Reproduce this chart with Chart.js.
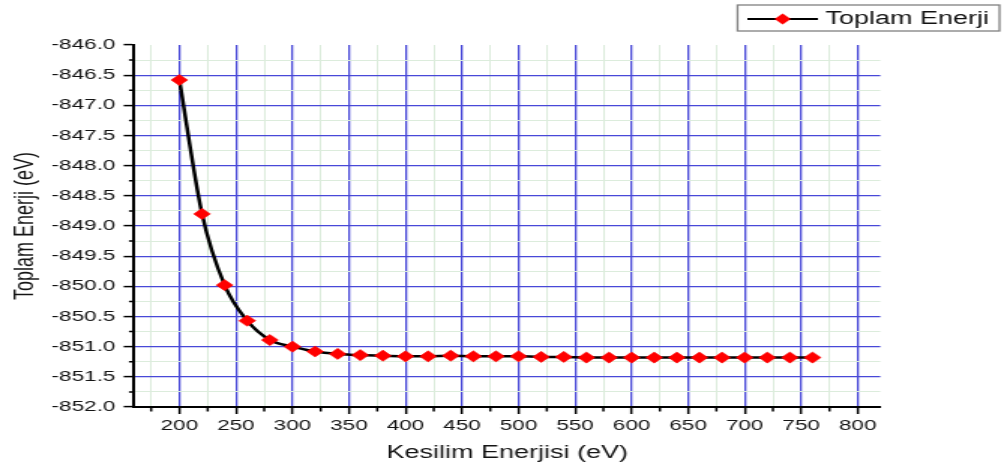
<!DOCTYPE html>
<html>
<head>
<meta charset="utf-8">
<script src="https://cdn.jsdelivr.net/npm/chart.js@4"></script>
<style>
  html, body { margin: 0; padding: 0; background: #fff; overflow: hidden; }
  /* the plot is laid out at 669 px wide and widened to the full 1004 px */
  #wrap { width: 669px; height: 470px; transform: scaleX(1.50075); transform-origin: 0 0; }
</style>
</head>
<body>
<div id="wrap"><canvas id="c" width="669" height="470"></canvas></div>
<script>
// Cut-off energy (eV) and the total energy computed at each cut-off (eV)
const cutoffEV = [200, 220, 240, 260, 280, 300, 320, 340, 360, 380, 400, 420, 440, 460, 480,
                  500, 520, 540, 560, 580, 600, 620, 640, 660, 680, 700, 720, 740, 760];
const totalEnergyEV = [-846.58, -848.80, -849.98, -850.57, -850.89, -851.00, -851.08, -851.12,
                       -851.14, -851.15, -851.16, -851.16, -851.15, -851.16, -851.16, -851.16,
                       -851.17, -851.17, -851.18, -851.18, -851.18, -851.18, -851.18, -851.18,
                       -851.18, -851.18, -851.18, -851.18, -851.18];

// Axis ranges and tick spacing
const xLimits = [160, 820];
const yLimits = [-852, -846];
const xSteps = { major: 50, minor: 25 };
const ySteps = { major: 0.5, minor: 0.25 };

// Texts
const seriesName = 'Toplam Enerji';
const xTitle = 'Kesilim Enerjisi (eV)';
const yTitle = 'Toplam Enerji (eV)';

const FONT = "'Liberation Sans', Arial, sans-serif";
const TEXT = '#141414';
const MAJOR_GRID = '#4848d8';
const MINOR_GRID = '#dcecdc';
const CLEAR = 'rgba(0,0,0,0)';

const isMajor = (v, step) => Math.abs(v / step - Math.round(v / step)) < 1e-6;

// Legend symbol: a black line with a red diamond on it
function legendIcon() {
  const c = document.createElement('canvas');
  c.width = 60; c.height = 14;
  const g = c.getContext('2d');
  const cx = 33.5, cy = 7;
  g.strokeStyle = '#000'; g.lineWidth = 2.2;
  g.beginPath(); g.moveTo(cx - 23.5, cy); g.lineTo(cx + 23.5, cy); g.stroke();
  g.fillStyle = '#ff0000';
  g.beginPath();
  g.moveTo(cx - 5.4, cy); g.lineTo(cx, cy - 5.4); g.lineTo(cx + 5.4, cy); g.lineTo(cx, cy + 5.4);
  g.closePath(); g.fill();
  return c;
}

const whiteBackground = {
  id: 'whiteBackground',
  beforeDraw(chart) {
    const { ctx, width, height } = chart;
    ctx.save(); ctx.fillStyle = '#fff'; ctx.fillRect(0, 0, width, height); ctx.restore();
  }
};

// Short tick marks at the minor positions of both axes
const minorTicks = {
  id: 'minorTicks',
  afterDraw(chart) {
    const { ctx, scales: { x, y } } = chart;
    ctx.save();
    ctx.strokeStyle = '#000'; ctx.lineWidth = 1.5;
    ctx.beginPath();
    x.ticks.forEach(t => {
      if (!isMajor(t.value, xSteps.major)) {
        const px = x.getPixelForValue(t.value);
        ctx.moveTo(px, x.top); ctx.lineTo(px, x.top + 4.5);
      }
    });
    y.ticks.forEach(t => {
      if (!isMajor(t.value, ySteps.major)) {
        const py = y.getPixelForValue(t.value);
        ctx.moveTo(y.right - 3.5, py); ctx.lineTo(y.right, py);
      }
    });
    ctx.stroke();
    ctx.restore();
  }
};

// Thin frame around the legend entry
const legendFrame = {
  id: 'legendFrame',
  afterDraw(chart) {
    const hb = chart.legend && chart.legend.legendHitBoxes && chart.legend.legendHitBoxes[0];
    if (!hb) return;
    const ctx = chart.ctx;
    ctx.save();
    ctx.strokeStyle = '#808080'; ctx.lineWidth = 1.3;
    ctx.strokeRect(hb.left - 3.5, hb.top - 5, hb.width + 10.5, hb.height + 8);
    ctx.restore();
  }
};

const spacer = (position, size) => ({
  type: 'linear', position, display: true,
  grid: { display: false, drawTicks: false }, border: { display: false },
  ticks: { display: false },
  afterFit: s => { if (s.isHorizontal()) s.height = size; else s.width = size; }
});

new Chart(document.getElementById('c'), {
  type: 'line',
  data: {
    datasets: [{
      label: seriesName,
      data: cutoffEV.map((x, i) => ({ x, y: totalEnergyEV[i] })),
      borderColor: '#000',
      borderWidth: 2.5,
      backgroundColor: '#ff0000',
      pointStyle: 'rectRot',
      pointRadius: 5.6,
      pointBorderColor: '#ff0000',
      pointBorderWidth: 0.5,
      cubicInterpolationMode: 'monotone',
      fill: false
    }]
  },
  options: {
    responsive: false,
    animation: false,
    devicePixelRatio: 1,
    layout: { padding: 0 },
    plugins: {
      legend: {
        position: 'top', align: 'end',
        labels: {
          usePointStyle: true, pointStyle: legendIcon(), pointStyleWidth: 46,
          padding: 10, color: '#111', font: { family: FONT, size: 18 }
        }
      },
      tooltip: { enabled: false }
    },
    scales: {
      x: {
        type: 'linear', position: 'bottom', min: xLimits[0], max: xLimits[1],
        afterFit: s => { s.height = 63; },
        border: { display: true, color: '#000', width: 2 },
        grid: {
          color: c => isMajor(c.tick.value, xSteps.major) ? MAJOR_GRID : MINOR_GRID,
          lineWidth: c => isMajor(c.tick.value, xSteps.major) ? 1.3 : 1,
          tickLength: 7, tickWidth: 1.5,
          tickColor: c => isMajor(c.tick.value, xSteps.major) ? '#000' : CLEAR
        },
        ticks: {
          stepSize: xSteps.minor, includeBounds: false, autoSkip: false, maxRotation: 0,
          padding: 3, color: TEXT, font: { family: FONT, size: 15 },
          callback: v => isMajor(v, xSteps.major) ? String(v) : ''
        },
        title: { display: true, text: xTitle, color: TEXT, font: { family: FONT, size: 18 },
                 padding: { top: 0, bottom: 6 } }
      },
      y: {
        type: 'linear', position: 'left', min: yLimits[0], max: yLimits[1],
        afterFit: s => { s.width = 89.4; },
        border: { display: true, color: '#000', width: 2 },
        grid: {
          color: c => c.tick.value === yLimits[1] ? CLEAR
                    : (isMajor(c.tick.value, ySteps.major) ? MAJOR_GRID : MINOR_GRID),
          lineWidth: c => isMajor(c.tick.value, ySteps.major) ? 1.2 : 1,
          tickLength: 7, tickWidth: 1.5,
          tickColor: c => isMajor(c.tick.value, ySteps.major) ? '#000' : CLEAR
        },
        ticks: {
          stepSize: ySteps.minor, autoSkip: false, padding: 5.5,
          color: TEXT, font: { family: FONT, size: 15 },
          callback: v => isMajor(v, ySteps.major) ? v.toFixed(1) : ''
        },
        title: { display: true, text: yTitle, color: TEXT, font: { family: FONT, size: 18 },
                 padding: { top: 6, bottom: 0 } }
      },
      padRight: spacer('right', 82.4),
      padTop: spacer('top', 7)
    }
  },
  plugins: [whiteBackground, minorTicks, legendFrame]
});
</script>
</body>
</html>
